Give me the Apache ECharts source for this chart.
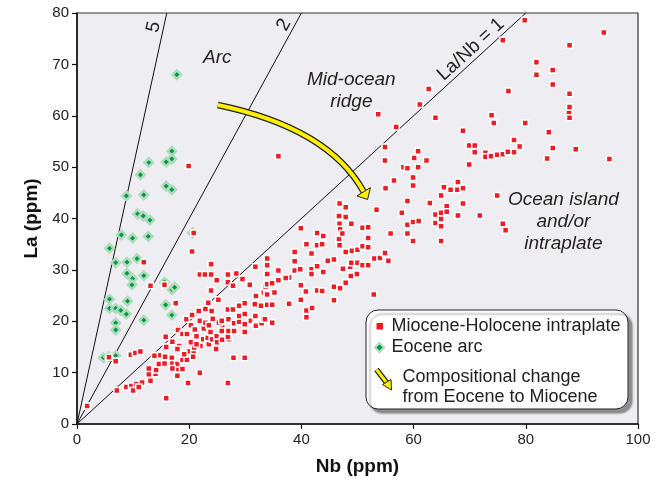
<!DOCTYPE html>
<html>
<head>
<meta charset="utf-8">
<script src="https://cdn.jsdelivr.net/npm/echarts@6/dist/echarts.min.js"></script>
<style>
  html, body { margin: 0; padding: 0; background: #fff; }
  #main { width: 667px; height: 481px; }
</style>
</head>
<body>
<div id="main"></div>
<script>
// Miocene-Holocene intraplate samples [Nb, La]
const intraplate = [
  [1.8,3.5],[5.7,13.0],[6.9,12.2],[7.1,6.5],[8.8,7.2],[9.7,7.4],[9.6,13.5],[10.4,13.8],[11.3,14.1],[10.0,6.5],
  [10.6,7.8],[11.6,8.1],[11.0,7.2],[13.1,8.4],[12.8,9.7],[12.8,10.8],[14.0,9.8],[14.1,10.5],[14.6,11.7],[14.6,13.4],
  [15.6,11.8],[15.7,13.1],[15.9,5.0],[15.9,15.0],[15.8,17.0],[16.9,12.9],[17.0,11.8],[17.0,16.0],[17.8,10.7],[17.9,9.4],
  [17.9,11.7],[18.0,18.3],[18.8,12.5],[18.8,17.5],[19.6,12.5],[19.6,17.5],[19.5,20.4],[19.8,8.0],[20.0,14.1],[20.3,19.2],
  [20.5,21.2],[20.8,13.8],[20.9,14.9],[20.9,15.9],[21.0,18.4],[21.6,16.8],[21.7,22.0],[21.9,10.0],[21.9,20.1],[22.0,15.2],
  [22.5,16.5],[22.6,18.6],[22.9,19.7],[22.9,22.4],[23.3,16.8],[23.4,23.6],[23.5,15.5],[23.5,19.2],[23.8,17.9],[24.0,22.0],
  [24.1,16.5],[24.8,14.6],[24.9,17.1],[18.2,15.2],[19.1,13.6],[20.3,15.9],[21.3,17.1],[21.3,15.5],[25.9,18.8],[24.2,20.5],
  [25.3,19.7],[27.1,16.5],[17.9,14.6],[13.8,13.3],[17.0,10.8],[18.8,10.7],[20.7,13.1],
  [11.9,31.5],[13.1,26.9],[15.6,27.1],[17.6,23.5],[19.9,50.2],[20.5,33.6],[20.8,37.2],[21.9,29.1],[22.8,29.1],[23.9,31.1],
  [23.9,29.1],[23.9,26.0],[24.9,28.0],[25.2,24.2],[26.9,29.1],[26.9,27.6],[27.8,26.9],[28.4,29.3],[29.5,28.2],[26.9,8.0],
  [27.9,12.9],[29.9,12.9],[30.7,27.0],[33.6,26.7],
  [25.0,15.9],[25.8,20.1],[25.8,18.1],[25.9,16.4],[26.9,22.3],[26.9,17.0],[27.0,20.4],[27.0,18.1],[27.8,22.3],[28.0,19.6],
  [28.0,18.1],[28.9,23.0],[28.9,19.9],[28.9,21.0],[29.9,23.5],[29.9,19.4],[29.9,21.4],[29.9,17.9],[30.8,27.1],[31.0,20.1],
  [31.7,23.3],[31.8,30.6],[31.8,21.0],[31.8,19.4],[31.9,24.9],[31.9,19.1],[32.8,23.0],[32.9,19.6],[33.2,20.4],[33.3,25.6],
  [33.5,20.4],[33.8,25.4],[33.9,32.2],[33.9,30.9],[33.9,29.2],[33.9,27.2],[33.9,25.2],[33.9,23.2],[34.8,27.4],[34.8,23.2],
  [34.8,19.7],[35.2,25.6],[35.9,29.9],[35.9,28.0],[35.9,52.1],[37.8,28.5],[37.8,23.4],[38.8,33.5],[38.8,31.7],[38.8,29.9],
  [39.8,30.1],[39.9,27.0],[39.9,24.2],[40.8,35.0],[40.8,25.8],[40.9,22.1],[40.9,20.8],[37.2,28.4],
  [39.9,38.1],[40.9,35.0],[41.8,33.2],[41.8,30.1],[41.8,29.2],[41.9,22.6],[42.8,37.2],[42.8,34.8],[42.8,30.7],[42.8,26.0],
  [43.7,35.0],[43.7,25.9],[43.9,36.6],[43.9,29.6],[44.7,31.8],[45.8,32.0],[45.8,26.7],[45.8,24.1],[46.7,40.5],[46.7,36.0],
  [46.8,42.9],[46.8,39.0],[46.8,34.8],[46.9,37.9],[46.9,26.4],[47.3,37.1],[47.4,30.2],[47.9,42.2],[47.9,40.3],[47.9,33.5],
  [47.9,27.5],[48.7,30.6],[48.8,28.8],[48.9,39.0],[48.9,31.4],[49.0,33.7],[49.9,29.2],[50.0,33.9],[50.0,31.4],[50.9,38.2],
  [50.9,34.6],[50.9,30.9],[51.9,38.3],[51.9,36.2],[51.9,34.4],[51.9,30.9],[52.9,25.2],[53.0,32.2],[53.4,41.7],[53.7,60.3],
  [54.0,32.3],[54.9,53.9],[54.9,51.3],[54.9,33.3],[55.0,45.9],[55.5,31.8],[55.9,37.1],[56.5,47.4],[56.9,57.8],
  [57.9,41.1],[58.2,50.0],[58.9,49.8],[58.9,43.4],[58.9,38.8],[58.9,37.1],[59.9,48.0],[59.9,46.4],[59.9,39.3],[59.9,35.6],
  [60.1,51.8],[60.8,53.1],[60.8,50.0],[60.9,39.5],[61.1,62.2],[62.3,51.3],[62.7,65.2],[62.9,43.0],[63.9,59.6],[63.9,40.8],
  [63.9,39.1],[64.9,44.5],[64.9,41.1],[64.9,39.9],[64.9,38.5],[64.9,35.6],[65.4,46.1],[65.9,42.4],[65.9,41.3],[66.6,45.6],
  [67.8,45.6],[67.9,47.1],[67.9,40.6],[68.8,57.1],[68.8,45.9],[68.8,42.9],[69.9,54.2],[69.9,50.5],[70.9,54.2],[70.9,52.9],
  [71.8,40.6],[72.8,52.8],[72.8,52.0],[73.8,52.1],[73.9,60.1],[74.3,58.6],[74.9,52.4],[74.9,44.5],[75.9,74.7],
  [75.9,52.5],[75.9,39.0],[76.4,37.7],[76.8,53.0],[76.9,64.8],[77.9,55.3],[77.9,52.9],[78.9,54.0],[79.8,78.6],[79.9,58.6],
  [81.9,70.4],[81.9,68.0],[83.8,51.7],[84.1,56.8],[84.8,68.9],[84.8,66.1],[84.8,53.7],[87.7,60.6],[87.8,73.7],[87.8,64.3],
  [87.8,61.7],[87.8,59.6],[88.9,53.5],[93.9,76.2],[94.9,51.6]
];

// Eocene arc samples [Nb, La]
const eoceneArc = [
  [17.8,68.0],[16.9,53.1],[16.9,51.6],[15.9,51.0],[12.8,50.9],[11.3,48.5],[15.9,46.3],[16.9,45.6],[8.8,44.4],[11.9,44.6],
  [10.8,40.9],[11.8,40.5],[13.0,39.7],[7.9,36.8],[9.9,36.2],[12.7,36.5],[5.8,34.2],[6.9,31.4],[8.9,31.5],[10.7,32.2],
  [8.9,29.3],[9.9,28.3],[9.8,27.1],[11.9,28.9],[15.6,27.6],[16.9,26.2],[17.4,26.6],[5.8,24.3],[9.0,23.9],[15.8,23.2],
  [5.8,22.5],[6.9,22.5],[7.8,22.1],[8.8,21.4],[16.9,21.2],[11.9,20.2],[6.9,19.7],[6.9,18.3],[4.7,12.9],[5.6,13.1],
  [6.9,13.3],[20.6,37.2]
];

// La/Nb reference lines and where their labels sit
const ratios = [5, 2, 1];
const ratioLabels = [
  { text: '5', at: [13.7, 77.3] },
  { text: '2', at: [36.9, 77.7] },
  { text: 'La/Nb = 1', at: [70.2, 72.9] }
];

// field names
const fieldLabels = [
  { lines: ['Arc'], at: [25.0, 71.3] },
  { lines: ['Mid-ocean', 'ridge'], at: [48.9, 64.9] },
  { lines: ['Ocean island', 'and/or', 'intraplate'], at: [86.7, 39.3] }
];

// curved trend arrow: start, control, end, head tip, head corners
const trendArrow = {
  start: [25.1, 62.1], ctrl: [44.9, 57.6], end: [51.1, 45.2],
  tip: [51.8, 43.7], left: [49.9, 44.4], right: [52.3, 46.0]
};

const xTicks = [0, 20, 40, 60, 80, 100];
const yTicks = [0, 10, 20, 30, 40, 50, 60, 70, 80];

const FONT = '"Liberation Sans", Arial, Helvetica, sans-serif';
const RED = '#ee1c25';
const GREEN = '#00994a';
const GREEN_HALO = '#aedcbb';
const YELLOW = '#fff000';

var chartDom = document.getElementById('main');
var myChart = echarts.init(chartDom, null, { renderer: 'canvas' });

const lineSeries = ratios.map(r => ({
  type: 'line',
  data: [[0, 0], [80 / r, 80]],
  symbol: 'none',
  silent: true,
  z: 1,
  lineStyle: { color: '#111', width: 1 },
  animation: false
}));

var option = {
  animation: false,
  textStyle: { fontFamily: FONT },
  grid: {
    left: 77, right: 29, top: 13, bottom: 56,
    show: true, backgroundColor: '#eeedf2', borderColor: '#333', borderWidth: 1.2
  },
  xAxis: {
    type: 'value', min: xTicks[0], max: xTicks[xTicks.length - 1], interval: 20,
    name: 'Nb (ppm)', nameLocation: 'middle', nameGap: 33,
    nameTextStyle: { fontWeight: 'bold', fontSize: 19, color: '#111', fontFamily: FONT },
    axisLine: { show: true, lineStyle: { color: '#111', width: 1.5 } },
    axisTick: { show: true, length: 5, lineStyle: { color: '#111', width: 1.2 } },
    axisLabel: { fontSize: 15, color: '#222', margin: 8, fontFamily: FONT },
    splitLine: { show: false }
  },
  yAxis: {
    type: 'value', min: yTicks[0], max: yTicks[yTicks.length - 1], interval: 10,
    name: 'La (ppm)', nameLocation: 'middle', nameGap: 34,
    nameTextStyle: { fontWeight: 'bold', fontSize: 19, color: '#111', fontFamily: FONT },
    axisLine: { show: true, lineStyle: { color: '#111', width: 1.5 } },
    axisTick: { show: true, length: 5, lineStyle: { color: '#111', width: 1.2 } },
    axisLabel: { fontSize: 15, color: '#222', margin: 8, fontFamily: FONT },
    splitLine: { show: false }
  },
  series: lineSeries.concat([
    {
      name: 'Eocene arc', type: 'scatter', data: eoceneArc, z: 3,
      symbol: 'diamond', symbolSize: 8.5,
      itemStyle: { color: GREEN, borderColor: GREEN_HALO, borderWidth: 2.5, opacity: 1 }
    },
    {
      name: 'Miocene-Holocene intraplate', type: 'scatter', data: intraplate, z: 4,
      symbol: 'rect', symbolSize: 6,
      itemStyle: { color: RED, borderColor: '#ffffff', borderWidth: 1.5, opacity: 1 }
    }
  ])
};

myChart.setOption(option);

// annotations, placed from data coordinates
const px = pt => myChart.convertToPixel({ gridIndex: 0 }, pt);
const graphics = [];

ratioLabels.forEach((l, i) => {
  const r = ratios[i];
  const a = px([0, 0]), b = px([80 / r, 80]);
  const ang = Math.atan2(a[1] - b[1], b[0] - a[0]);
  const p = px(l.at);
  graphics.push({
    type: 'text', x: p[0], y: p[1], rotation: ang, z: 10,
    style: { text: l.text, fontSize: 19, fontFamily: FONT, fill: '#222', align: 'center', verticalAlign: 'middle' }
  });
});

fieldLabels.forEach(f => {
  const p = px(f.at);
  graphics.push({
    type: 'text', x: p[0], y: p[1], z: 10,
    style: {
      text: f.lines.join('\n'), fontSize: 19, lineHeight: 22, fontStyle: 'italic', fontFamily: FONT,
      fill: '#231f20', align: 'center', verticalAlign: 'middle'
    }
  });
});

// curved arrow
const s = px(trendArrow.start), c = px(trendArrow.ctrl), e = px(trendArrow.end);
const curve = { x1: s[0], y1: s[1], cpx1: c[0], cpy1: c[1], x2: e[0], y2: e[1] };
graphics.push({ type: 'bezierCurve', shape: curve, z: 11, style: { stroke: '#222', lineWidth: 6.5, fill: null } });
graphics.push({ type: 'bezierCurve', shape: curve, z: 12, style: { stroke: YELLOW, lineWidth: 4, fill: null } });
graphics.push({
  type: 'polygon', z: 13,
  shape: { points: [px(trendArrow.left), px(trendArrow.tip), px(trendArrow.right)] },
  style: { fill: YELLOW, stroke: '#222', lineWidth: 1 }
});

// legend box
const LX = 366, LY = 310;
graphics.push({
  type: 'rect', z: 20,
  shape: { x: LX, y: LY, width: 262, height: 99, r: 12 },
  style: {
    fill: '#fff', stroke: '#222', lineWidth: 1,
    shadowColor: 'rgba(0,0,0,0.4)', shadowOffsetX: 4, shadowOffsetY: 4, shadowBlur: 2
  }
});
graphics.push({ type: 'rect', z: 21, shape: { x: 376.5, y: 323, width: 6.5, height: 6.5 }, style: { fill: RED } });
graphics.push({
  type: 'polygon', z: 21,
  shape: { points: [[379.5, 341.5], [385.5, 347.5], [379.5, 353.5], [373.5, 347.5]] },
  style: { fill: GREEN_HALO }
});
graphics.push({
  type: 'polygon', z: 22,
  shape: { points: [[379.5, 344.5], [382.5, 347.5], [379.5, 350.5], [376.5, 347.5]] },
  style: { fill: GREEN }
});
// legend arrow
graphics.push({ type: 'line', z: 21, shape: { x1: 376.5, y1: 369.5, x2: 386.5, y2: 382.5 }, style: { stroke: '#222', lineWidth: 5.5 } });
graphics.push({ type: 'line', z: 22, shape: { x1: 376.5, y1: 369.5, x2: 386.5, y2: 382.5 }, style: { stroke: YELLOW, lineWidth: 3 } });
graphics.push({
  type: 'polygon', z: 23,
  shape: { points: [[382.5, 384.5], [391.5, 390], [391, 379.5]] },
  style: { fill: YELLOW, stroke: '#222', lineWidth: 1 }
});
const legendText = [
  { t: 'Miocene-Holocene intraplate', x: 391.5, y: 326 },
  { t: 'Eocene arc', x: 391.5, y: 347.5 },
  { t: 'Compositional change', x: 402.5, y: 377.5 },
  { t: 'from Eocene to Miocene', x: 402.5, y: 397.5 }
];
legendText.forEach(l => graphics.push({
  type: 'text', x: l.x, y: l.y, z: 24,
  style: { text: l.t, fontSize: 18, fontFamily: FONT, fill: '#222', verticalAlign: 'middle' }
}));

myChart.setOption({ graphic: graphics });
</script>
</body>
</html>
